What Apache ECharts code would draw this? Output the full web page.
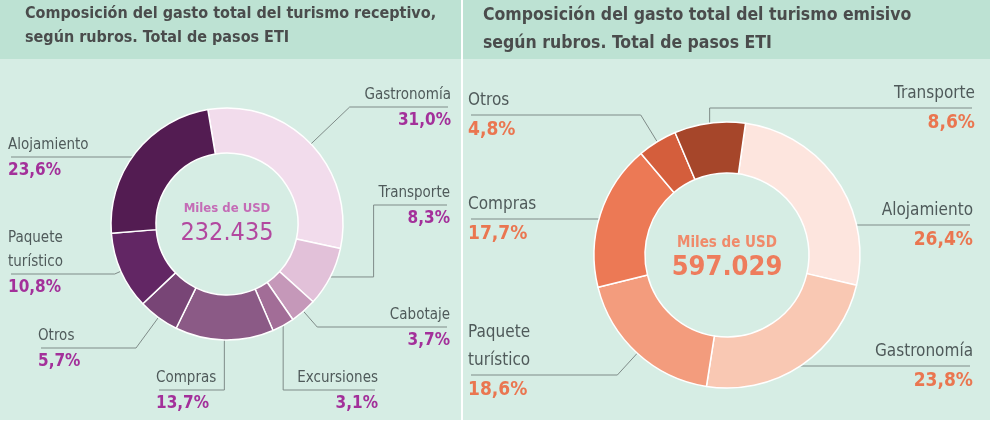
<!DOCTYPE html>
<html>
<head>
<meta charset="utf-8">
<script src="https://cdn.jsdelivr.net/npm/echarts@6/dist/echarts.min.js"></script>
<style>
html,body{margin:0;padding:0;background:#fff}
#main{width:990px;height:423px}
</style>
</head>
<body>
<div id="main"></div>
<script>
var FONT = "'DejaVu Sans Condensed','Liberation Sans',sans-serif";

/** turismo receptivo **/
var recNames = ['Gastronomía', 'Transporte', 'Cabotaje', 'Excursiones', 'Compras', 'Otros', 'Paquete\nturístico', 'Alojamiento'];
var recValues = [31.0, 8.3, 3.7, 3.1, 13.7, 5.7, 10.8, 23.6];
var recTotal = '232.435';

/** turismo emisivo **/
var emiNames = ['Alojamiento', 'Gastronomía', 'Paquete\nturístico', 'Compras', 'Otros', 'Transporte'];
var emiValues = [26.4, 23.8, 18.6, 17.7, 4.8, 8.6];
var emiTotal = '597.029';

/** colores **/
var recColors = ['#f2dcec', '#e2c1d9', '#c598b9', '#a26d97', '#8b5a86', '#784576', '#622664', '#531c52'];
var emiColors = ['#fde5de', '#f9c8b3', '#f39c7d', '#ec7955', '#d45e3c', '#a6462a'];

/** posicion de las etiquetas (x, linea y, alineacion, tipo de guia) **/
var recLabelPos = [
	{x: 451, y: 107, align: 'right', mode: 'r'},
	{x: 450, y: 205, align: 'right', mode: 'hv'},
	{x: 450, y: 327, align: 'right', mode: 'r'},
	{x: 378, y: 390, align: 'right', mode: 'v'},
	{x: 156, y: 390, align: 'left', mode: 'v'},
	{x: 38, y: 348, align: 'left', mode: 'r'},
	{x: 8, y: 274, align: 'left', mode: 'r'},
	{x: 8, y: 157, align: 'left', mode: 'h'}
];
var emiLabelPos = [
	{x: 973, y: 225, align: 'right', mode: 'h'},
	{x: 973, y: 366, align: 'right', mode: 'h'},
	{x: 468, y: 375, align: 'left', mode: 'r'},
	{x: 468, y: 219, align: 'left', mode: 'h'},
	{x: 468, y: 115, align: 'left', mode: 'r'},
	{x: 975, y: 108, align: 'right', mode: 'v'}
];

function pct(v){
	return v.toFixed(1).replace('.', ',') + '%';
}

function labelText(p){
	var lines = p.name.split('\n').map(function(s){ return '{n|' + s + '}'; });
	return lines.join('\n') + '\n{p|' + pct(p.value) + '}';
}

// coloca la etiqueta y dibuja la guia por debajo del nombre
function leaderLayout(pos, names, cx, cy, r, lhName){
	return function(p){
		var c = pos[p.dataIndex];
		var pts = p.labelLinePoints || [[cx, cy], [cx, cy]];
		var p0 = pts[0], p1 = pts[1];
		var Y = c.y;
		var side = c.align === 'left' ? -1 : 1;
		var far = c.x - side * 3;
		var line;
		if (c.mode === 'h') {
			var ex = cx + side * Math.sqrt(r * r - (Y - cy) * (Y - cy));
			line = [[ex, Y], [far, Y]];
		} else if (c.mode === 'hv') {
			var near = c.x - p.labelRect.width - 5;
			line = [p0, [near, p0[1]], [near, Y], [far, Y]];
		} else if (c.mode === 'r') {
			var t = (Y - p0[1]) / (p1[1] - p0[1]);
			if (!isFinite(t) || t < 0) t = 0;
			line = [p0, [p0[0] + (p1[0] - p0[0]) * t, Y], [far, Y]];
		} else {
			line = [p0, [p0[0], Y], [far, Y]];
		}
		var nLines = names[p.dataIndex].split('\n').length;
		return {
			x: c.x,
			y: Y - nLines * lhName,
			align: c.align,
			verticalAlign: 'top',
			labelLinePoints: line
		};
	};
}

function buildData(names, values, colors){
	return names.map(function(n, i){
		return {name: n, value: values[i], itemStyle: {color: colors[i]}};
	});
}

var chart = echarts.init(document.getElementById('main'));

var option = {
	backgroundColor: '#ffffff',
	animation: false,
	graphic: [
		{type: 'rect', z: -10, silent: true, shape: {x: 0, y: 0, width: 461, height: 59}, style: {fill: '#bde2d3'}},
		{type: 'rect', z: -10, silent: true, shape: {x: 0, y: 59, width: 461, height: 361}, style: {fill: '#d6ede4'}},
		{type: 'rect', z: -10, silent: true, shape: {x: 463, y: 0, width: 527, height: 59}, style: {fill: '#bde2d3'}},
		{type: 'rect', z: -10, silent: true, shape: {x: 463, y: 59, width: 527, height: 361}, style: {fill: '#d6ede4'}}
	],
	title: [
		{
			text: 'Composición del gasto total del turismo receptivo,\nsegún rubros. Total de pasos ETI',
			left: 25, top: 2, padding: 0,
			textStyle: {fontFamily: FONT, fontSize: 16, fontWeight: 'bold', color: '#4a4c4c', lineHeight: 24}
		},
		{
			text: 'Composición del gasto total del turismo emisivo\nsegún rubros. Total de pasos ETI',
			left: 483, top: 1, padding: 0,
			textStyle: {fontFamily: FONT, fontSize: 17.5, fontWeight: 'bold', color: '#4a4c4c', lineHeight: 28}
		},
		{
			text: 'Miles de USD', left: 227, top: 201, padding: 0, textAlign: 'center',
			textStyle: {fontFamily: FONT, fontSize: 13, fontWeight: 'bold', color: '#c46cb6', lineHeight: 16}
		},
		{
			text: recTotal, left: 227, top: 218, padding: 0, textAlign: 'center',
			textStyle: {fontFamily: FONT, fontSize: 25, fontWeight: 'normal', color: '#b2489f', lineHeight: 30}
		},
		{
			text: 'Miles de USD', left: 727, top: 235, padding: 0, textAlign: 'center',
			textStyle: {fontFamily: FONT, fontSize: 15, fontWeight: 'bold', color: '#f08a6a', lineHeight: 17}
		},
		{
			text: emiTotal, left: 727, top: 252, padding: 0, textAlign: 'center',
			textStyle: {fontFamily: FONT, fontSize: 27, fontWeight: 'bold', color: '#ee7c5c', lineHeight: 31}
		}
	],
	series: [
		{
			name: 'receptivo',
			type: 'pie',
			left: 0, top: 0, width: 990, height: 423,
			center: [227, 224],
			radius: [71, 116],
			startAngle: 99.5,
			avoidLabelOverlap: false,
			itemStyle: {borderColor: '#ffffff', borderWidth: 1.5},
			label: {
				show: true,
				position: 'outside',
				formatter: labelText,
				rich: {
					n: {fontFamily: FONT, fontSize: 15, color: '#4f5a5a', lineHeight: 24},
					p: {fontFamily: FONT, fontSize: 17, fontWeight: 'bold', color: '#a3309a', lineHeight: 28}
				}
			},
			labelLine: {show: true, length: 15, length2: 10, smooth: false, lineStyle: {color: '#7f8b88', width: 1}},
			labelLayout: leaderLayout(recLabelPos, recNames, 227, 224, 116, 24),
			emphasis: {disabled: true},
			data: buildData(recNames, recValues, recColors)
		},
		{
			name: 'emisivo',
			type: 'pie',
			left: 0, top: 0, width: 990, height: 423,
			center: [727, 255],
			radius: [82, 133],
			startAngle: 82,
			avoidLabelOverlap: false,
			itemStyle: {borderColor: '#ffffff', borderWidth: 1.5},
			label: {
				show: true,
				position: 'outside',
				formatter: labelText,
				rich: {
					n: {fontFamily: FONT, fontSize: 17, color: '#4f5a5a', lineHeight: 28},
					p: {fontFamily: FONT, fontSize: 19, fontWeight: 'bold', color: '#ea7650', lineHeight: 30}
				}
			},
			labelLine: {show: true, length: 15, length2: 10, smooth: false, lineStyle: {color: '#7f8b88', width: 1}},
			labelLayout: leaderLayout(emiLabelPos, emiNames, 727, 255, 133, 28),
			emphasis: {disabled: true},
			data: buildData(emiNames, emiValues, emiColors)
		}
	]
};
chart.setOption(option);
</script>
</body>
</html>
